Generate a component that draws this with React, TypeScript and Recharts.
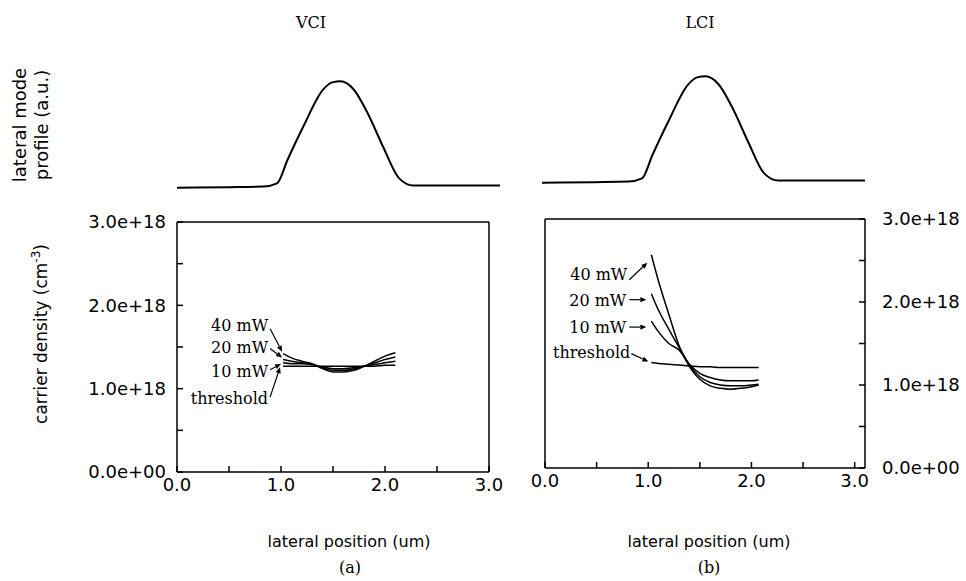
import { LineChart, Line, XAxis, YAxis, ReferenceDot } from 'recharts';

// lateral mode profile (a.u.), same shape above both panels
const profileX = [0, 0.5, 0.83, 0.96, 1.06, 1.21, 1.4, 1.49, 1.57, 1.69, 1.83, 1.98, 2.13, 2.27, 3.1];
const profileY = [0, 0.005, 0.01, 0.04, 0.26, 0.57, 0.92, 0.99, 1.0, 0.93, 0.7, 0.38, 0.09, 0.02, 0.02];

// carrier density, units of 1e18 cm^-3
const vciX = [1.02, 1.1, 1.2, 1.3, 1.4, 1.5, 1.6, 1.7, 1.8, 1.9, 2.0, 2.1];
const vciThreshold = [1.27, 1.27, 1.27, 1.27, 1.27, 1.27, 1.27, 1.27, 1.27, 1.27, 1.28, 1.28];
const vci10 = [1.31, 1.3, 1.3, 1.29, 1.26, 1.24, 1.24, 1.25, 1.27, 1.29, 1.31, 1.33];
const vci20 = [1.35, 1.33, 1.31, 1.29, 1.25, 1.22, 1.22, 1.24, 1.27, 1.31, 1.35, 1.38];
const vci40 = [1.42, 1.37, 1.33, 1.3, 1.24, 1.2, 1.2, 1.22, 1.27, 1.33, 1.39, 1.43];

const lciX = [1.03, 1.1, 1.2, 1.3, 1.4, 1.5, 1.6, 1.7, 1.8, 1.9, 2.0, 2.07];
const lciThreshold = [1.27, 1.26, 1.25, 1.24, 1.23, 1.22, 1.22, 1.21, 1.21, 1.21, 1.21, 1.21];
const lci10 = [1.77, 1.64, 1.5, 1.42, 1.25, 1.14, 1.09, 1.06, 1.05, 1.05, 1.05, 1.06];
const lci20 = [2.1, 1.9, 1.67, 1.45, 1.24, 1.1, 1.03, 1.0, 0.99, 0.99, 1.0, 1.01];
const lci40 = [2.57, 2.25, 1.85, 1.47, 1.22, 1.07, 0.99, 0.96, 0.95, 0.96, 0.98, 1.0];

const xTicks = [0, 0.5, 1, 1.5, 2, 2.5, 3];
const yTicks = [0, 0.5, 1, 1.5, 2, 2.5, 3];
const seriesKeys = ['threshold', 'p10', 'p20', 'p40'];
const seriesLabels = ['threshold', '10 mW', '20 mW', '40 mW'];

const profileRows = profileX.map((x, i) => ({ x, v: profileY[i] }));
const vciRows = vciX.map((x, i) => ({ x, threshold: vciThreshold[i], p10: vci10[i], p20: vci20[i], p40: vci40[i] }));
const lciRows = lciX.map((x, i) => ({ x, threshold: lciThreshold[i], p10: lci10[i], p20: lci20[i], p40: lci40[i] }));

const SANS = '"DejaVu Sans", sans-serif';
const SERIF = '"DejaVu Serif", serif';

const xFmt = (v: number) => (Number.isInteger(v) ? v.toFixed(1) : '');
const yFmt = (v: number) => (!Number.isInteger(v) ? '' : v === 0 ? '0.0e+00' : `${v.toFixed(1)}e+18`);

// label / arrow offsets relative to the start of each curve
const vciNotes: Record<string, number[]> = {
  p40: [-15, -28, -13, -25, -1, -2],
  p20: [-15, -12, -13, -11, -1, -2],
  p10: [-15, 9, -13, 7, -2, 1],
  threshold: [-15, 32, -13, 31, -3, 1],
};
const lciNotes: Record<string, number[]> = {
  p40: [-24, 20, -22, 25, -4, 8],
  p20: [-25, 7, -22, 6, -5, 6],
  p10: [-25, 6, -22, 6, -5, 6],
  threshold: [-21, -10, -20, -9, -3, -1],
};

function Note(props: any) {
  const { cx, cy, label, off } = props;
  const [tx, ty, ax, ay, hx, hy] = off;
  const x1 = cx + ax, y1 = cy + ay, x2 = cx + hx, y2 = cy + hy;
  const a = Math.atan2(y2 - y1, x2 - x1);
  const L = 6, W = 2.6;
  const bx = x2 - L * Math.cos(a), by = y2 - L * Math.sin(a);
  const pts = `${x2},${y2} ${bx + W * Math.sin(a)},${by - W * Math.cos(a)} ${bx - W * Math.sin(a)},${by + W * Math.cos(a)}`;
  return (
    <g>
      <text x={cx + tx} y={cy + ty} textAnchor="end" dominantBaseline="central" fontFamily={SERIF} fontSize={16} fill="#000">
        {label}
      </text>
      <line x1={x1} y1={y1} x2={bx} y2={by} stroke="#000" strokeWidth={1.2} />
      <polygon points={pts} fill="#000" />
    </g>
  );
}

function Profile({ left, top }: { left: number; top: number }) {
  return (
    <div style={{ position: 'absolute', left, top }}>
      <LineChart width={323} height={117} data={profileRows} margin={{ top: 0, right: 0, bottom: 0, left: 0 }}>
        <XAxis dataKey="x" type="number" domain={[0, 3.1]} hide />
        <YAxis type="number" domain={[-0.05, 1.05]} hide />
        <Line type="monotone" dataKey="v" stroke="#000" strokeWidth={2} dot={false} isAnimationActive={false} />
      </LineChart>
    </div>
  );
}

function Panel({ rows, side, left, top, plotW, plotH, xMax, notes }: any) {
  const wL = side === 'left' ? 100 : 30;
  const wR = side === 'left' ? 30 : 100;
  const tickStyle = { fontFamily: SANS, fontSize: 18, fill: '#000' };
  const axisProps = { stroke: '#000', strokeWidth: 1.5, tickSize: -6, interval: 0 as const };
  const first = rows[0];
  return (
    <div style={{ position: 'absolute', left: left - wL, top: top - 10 }}>
      <LineChart width={wL + plotW + wR} height={10 + plotH + 40} data={rows} margin={{ top: 0, right: 0, bottom: 0, left: 0 }}>
        <XAxis dataKey="x" type="number" domain={[0, xMax]} ticks={xTicks} tickFormatter={xFmt} height={40} tickMargin={12} tick={tickStyle} {...axisProps} />
        <XAxis xAxisId="top" dataKey="x" orientation="top" type="number" domain={[0, xMax]} ticks={xTicks} height={10} tick={false} {...axisProps} />
        <YAxis type="number" domain={[0, 3]} ticks={yTicks} width={wL} orientation="left"
          tick={side === 'left' ? tickStyle : false} tickFormatter={yFmt} tickMargin={17} {...axisProps} />
        <YAxis yAxisId="right" orientation="right" type="number" domain={[0, 3]} ticks={yTicks} width={wR}
          tick={side === 'right' ? tickStyle : false} tickFormatter={yFmt} tickMargin={23} {...axisProps} />
        {seriesKeys.map((k) => (
          <Line key={k} type="monotone" dataKey={k} stroke="#000" strokeWidth={1.5} dot={false} isAnimationActive={false} />
        ))}
        {/* invisible copy so the frame axes (top / right) get their ticks */}
        <Line xAxisId="top" yAxisId="right" dataKey="threshold" stroke="none" dot={false} activeDot={false} isAnimationActive={false} />
        {seriesKeys.map((k, i) => (
          <ReferenceDot key={`n-${k}`} x={first.x} y={first[k]} r={1}
            shape={(p: any) => <Note cx={p.cx} cy={p.cy} label={seriesLabels[i]} off={notes[k]} />} />
        ))}
      </LineChart>
    </div>
  );
}

const abs = (left: number, top: number, extra: any = {}) => ({ position: 'absolute' as const, left, top, ...extra });

export default function App() {
  return (
    <div style={{ position: 'absolute', left: 0, top: 0, width: 966, height: 581, background: '#fff', overflow: 'hidden', color: '#000' }}>
      <div style={abs(311, 22, { fontFamily: SERIF, fontSize: 16, transform: 'translate(-50%,-50%)' })}>VCI</div>
      <div style={abs(700, 22, { fontFamily: SERIF, fontSize: 16, transform: 'translate(-50%,-50%)' })}>LCI</div>

      <div style={abs(31, 125, { fontFamily: SANS, fontSize: 18, lineHeight: '22px', textAlign: 'center', whiteSpace: 'nowrap', transform: 'translate(-50%,-50%) rotate(-90deg)' })}>
        lateral mode<br />profile (a.u.)
      </div>
      <div style={abs(40, 334, { fontFamily: SANS, fontSize: 17, whiteSpace: 'nowrap', transform: 'translate(-50%,-50%) rotate(-90deg)' })}>
        carrier density (cm<sup style={{ fontSize: 12 }}>-3</sup>)
      </div>

      <Profile left={177} top={76} />
      <Profile left={542} top={71} />

      <Panel rows={vciRows} side="left" left={177} top={222} plotW={312} plotH={250} xMax={3} notes={vciNotes} />
      <Panel rows={lciRows} side="right" left={545} top={219} plotW={320} plotH={249} xMax={3.1} notes={lciNotes} />

      <div style={abs(349, 541, { fontFamily: SANS, fontSize: 16, whiteSpace: 'nowrap', transform: 'translate(-50%,-50%)' })}>lateral position (um)</div>
      <div style={abs(709, 541, { fontFamily: SANS, fontSize: 16, whiteSpace: 'nowrap', transform: 'translate(-50%,-50%)' })}>lateral position (um)</div>
      <div style={abs(350, 567, { fontFamily: SERIF, fontSize: 16, transform: 'translate(-50%,-50%)' })}>(a)</div>
      <div style={abs(709, 567, { fontFamily: SERIF, fontSize: 16, transform: 'translate(-50%,-50%)' })}>(b)</div>
    </div>
  );
}
